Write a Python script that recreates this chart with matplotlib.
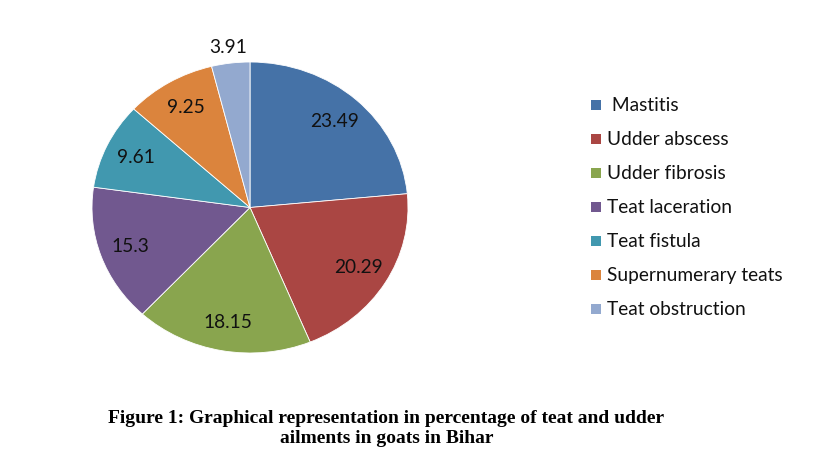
import matplotlib
matplotlib.use("Agg")
import matplotlib.pyplot as plt
from matplotlib.patches import Rectangle
import numpy as np

categories = [" Mastitis", "Udder abscess", "Udder fibrosis", "Teat laceration",
              "Teat fistula", "Supernumerary teats", "Teat obstruction"]
values = [23.49, 20.29, 18.15, 15.3, 9.61, 9.25, 3.91]
value_labels = ["23.49", "20.29", "18.15", "15.3", "9.61", "9.25", "3.91"]
colors = ["#4572A7", "#AA4643", "#89A54E", "#71588F", "#4198AF", "#DB843D", "#93A9CF"]

fig = plt.figure(figsize=(8.16, 4.73), dpi=100)
W, H = 816, 473
left, right, top, bottom = 92, 408, 62, 353
ax = fig.add_axes([left / W, 1 - bottom / H, (right - left) / W, (bottom - top) / H])

wedges, _ = ax.pie(values, colors=colors, startangle=90, counterclock=False,
                   wedgeprops=dict(edgecolor="white", linewidth=0.6))
ax.set_aspect("auto")
ax.set_xlim(-1, 1)
ax.set_ylim(-1, 1)
ax.axis("off")

for i, (w, lab) in enumerate(zip(wedges, value_labels)):
    ang = np.deg2rad((w.theta1 + w.theta2) / 2)
    d = 1.11 if i == len(values) - 1 else 0.8
    ax.text(d * np.cos(ang), d * np.sin(ang), lab, ha="center", va="center",
            fontsize=13.8, family="Lato", color="#111111", clip_on=False)

# legend (manual layout, pixel geometry)
y0, dy = 105, 34
for i, (cat, col) in enumerate(zip(categories, colors)):
    yc = y0 + dy * i
    fig.patches.append(Rectangle((591 / W, 1 - (yc + 5) / H), 10 / W, 10 / H,
                                 transform=fig.transFigure, facecolor=col,
                                 edgecolor="none"))
    fig.text(607 / W, 1 - (yc + 6) / H, cat, ha="left", va="baseline",
             fontsize=13.8, family="Lato", color="#111111")

fig.text(386 / W, 1 - 423 / H, "Figure 1: Graphical representation in percentage of teat and udder",
         ha="center", va="baseline", fontsize=14, family="Liberation Serif", weight="bold")
fig.text(387 / W, 1 - 443 / H, "ailments in goats in Bihar",
         ha="center", va="baseline", fontsize=14, family="Liberation Serif", weight="bold")

fig.savefig("out.png", dpi=100)
